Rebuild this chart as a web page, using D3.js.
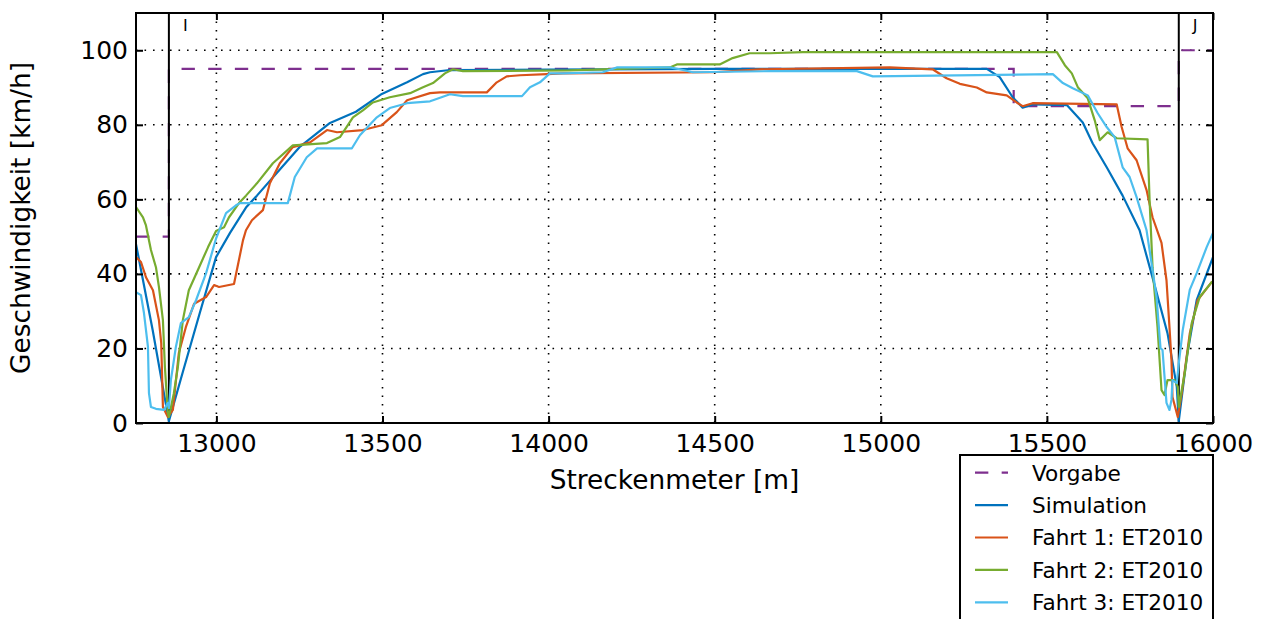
<!DOCTYPE html>
<html><head><meta charset="utf-8">
<script src="https://cdn.jsdelivr.net/npm/d3@7"></script>
<style>body{margin:0;background:#fff;} svg{display:block;font-family:"DejaVu Sans",sans-serif;}</style>
</head><body><svg id="c" width="1274" height="619"></svg>
<script>
const xTicks=[13000,13500,14000,14500,15000,15500,16000];
const yTicks=[0,20,40,60,80,100];
const seriesNames=["Vorgabe","Simulation","Fahrt 1: ET2010","Fahrt 2: ET2010","Fahrt 3: ET2010"];
const vorgabe=[[12758,50],[12857,50],[12857,95],[15400,95],[15400,85],[15897,85],[15897,100],[16000,100]];
const simulation=[[12758,48],[12808,25],[12857,0.5],[12900,14],[12950,29.5],[12999,44.5],[13041,51],[13089,57.8],[13122,61],[13191,68],[13250,74],[13342,80.5],[13420,83.5],[13498,88.3],[13574,91.4],[13622,93.6],[13643,94.1],[13703,94.7],[14000,94.8],[14500,95],[15319,95],[15358,92.8],[15397,87.4],[15427,84.6],[15460,85.5],[15560,85.3],[15608,80.6],[15638,75],[15680,68.6],[15728,61],[15779,51.7],[15815,40],[15863,24.1],[15891,9.7],[15897,0.5],[15921,17.7],[15951,33],[16000,44.5]];
const fahrt1=[[12758,44.5],[12773,43.2],[12788,39.1],[12809,35.6],[12827,27.6],[12834,21.4],[12839,4.3],[12854,1.6],[12869,3.5],[12887,18.8],[12908,25.7],[12933,32],[12969,33.8],[12993,37],[13008,36.5],[13053,37.3],[13080,49],[13089,51.7],[13107,54.4],[13140,57.1],[13161,64.3],[13191,69.7],[13230,74],[13282,75.3],[13333,78.6],[13363,78],[13441,78.6],[13498,79.9],[13543,83.4],[13574,86.6],[13643,88.5],[13673,88.7],[13814,88.7],[13844,91.4],[13874,93],[13914,93.3],[13995,93.6],[14043,93.8],[14494,94.1],[14636,94.9],[15027,95.4],[15156,94.9],[15198,92.5],[15238,91],[15289,90],[15319,88.7],[15379,87.9],[15409,86],[15427,85],[15457,85.8],[15710,85.5],[15725,79.4],[15743,73.7],[15770,70.5],[15800,62.5],[15818,55.2],[15845,48.3],[15860,38.3],[15869,25.7],[15875,16.9],[15878,7],[15894,1.6],[15906,8],[15930,24],[15954,33],[15996,37.8],[16000,38]];
const fahrt2=[[12758,57.9],[12779,55.2],[12788,53],[12803,46.4],[12818,41.8],[12827,36.5],[12839,27.6],[12845,15],[12854,2.7],[12857,1.6],[12872,8],[12884,15],[12899,27.6],[12917,35.6],[12948,41.8],[12975,47.2],[12999,51.5],[13023,52.5],[13038,55.2],[13068,59],[13089,61],[13122,64.3],[13170,69.7],[13230,74.5],[13333,75.1],[13372,76.7],[13411,82],[13441,83.9],[13471,86],[13522,87.4],[13583,88.5],[13622,90.1],[13652,91.2],[13688,93.8],[13712,94.9],[13742,94.4],[14064,94.6],[14365,95.4],[14386,96.2],[14515,96.2],[14554,97.9],[14605,99.2],[14666,99.2],[14765,99.5],[15530,99.5],[15554,96],[15575,93.8],[15593,90.1],[15623,87.1],[15644,81.2],[15659,75.9],[15683,78],[15710,76.4],[15803,76.1],[15809,60],[15818,41.8],[15833,25.7],[15845,8.8],[15854,7.5],[15863,11.5],[15884,11.5],[15894,9.7],[15897,4.3],[15915,13.4],[15936,26.8],[15960,33.8],[15996,37.8],[16000,38]];
const fahrt3=[[12758,35.1],[12773,34.3],[12782,29.5],[12794,20.4],[12797,8],[12803,4.3],[12818,3.8],[12842,3.5],[12854,5.4],[12857,4],[12863,11.5],[12878,20.4],[12893,26.8],[12917,28.4],[12939,33],[12969,40.2],[12999,49.5],[13029,56.3],[13059,58.4],[13071,59],[13215,59],[13236,66],[13272,71.3],[13303,73.7],[13408,73.7],[13432,77.2],[13483,82],[13522,84.5],[13574,85.8],[13643,86.3],[13652,86.6],[13703,88.2],[13742,87.7],[13920,87.7],[13944,90.1],[13974,91.4],[14004,93.8],[14043,93.8],[14163,94.1],[14205,95.4],[14365,95.4],[14395,94.9],[14434,94.1],[14666,94.4],[14928,94.4],[14976,93],[15518,93.6],[15548,91.2],[15578,89.8],[15623,87.9],[15653,83.1],[15680,79.4],[15704,76.7],[15728,68.6],[15749,66],[15770,60.6],[15800,51.7],[15815,42.9],[15830,33.8],[15842,20.1],[15848,19.6],[15860,5.4],[15869,3.5],[15875,6.2],[15878,11.5],[15891,10.7],[15897,16],[15909,25],[15930,35.7],[15951,40.2],[15981,47.2],[16000,51]];
const markers=[["I",12857],["J",15897]];

const colors=["#7E2F8E","#0072BD","#D95319","#77AC30","#4DBEEE"];
const allSeries=[vorgabe,simulation,fahrt1,fahrt2,fahrt3];

const L=136,R=1213,T=13,B=423;
const svg=d3.select("#c");
const x=d3.scaleLinear().domain([12758,16000]).range([L,R]);
const y=d3.scaleLinear().domain([0,110]).range([B,T]);

svg.append("defs").append("clipPath").attr("id","clip").append("rect")
  .attr("x",L).attr("y",T).attr("width",R-L).attr("height",B-T);

// grid
const grid=svg.append("g");
grid.selectAll(".gx").data(xTicks).join("line")
  .attr("x1",d=>x(d)).attr("x2",d=>x(d)).attr("y1",T).attr("y2",B)
  .attr("stroke","#000").attr("stroke-width",1.6).attr("stroke-dasharray","1.6,6.9");
grid.selectAll(".gy").data(yTicks).join("line")
  .attr("x1",L).attr("x2",R).attr("y1",d=>y(d)).attr("y2",d=>y(d))
  .attr("stroke","#000").attr("stroke-width",1.6).attr("stroke-dasharray","1.6,6.9");

const line=d3.line().x(d=>x(d[0])).y(d=>y(d[1]));
const plot=svg.append("g").attr("clip-path","url(#clip)");
plot.append("path").datum(vorgabe).attr("d",line).attr("fill","none")
  .attr("stroke",colors[0]).attr("stroke-width",2.2).attr("stroke-dasharray","13.33,13.33");
// vertical markers
plot.selectAll(".vm").data(markers).join("line")
  .attr("x1",d=>x(d[1])).attr("x2",d=>x(d[1])).attr("y1",T).attr("y2",B)
  .attr("stroke","#000").attr("stroke-width",2);
for(let i=1;i<allSeries.length;i++){
  plot.append("path").datum(allSeries[i]).attr("d",line).attr("fill","none")
    .attr("stroke",colors[i]).attr("stroke-width",2.2).attr("stroke-linejoin","round");
}
svg.selectAll(".ml").data(markers).join("text")
  .attr("x",d=>x(d[1])+14).attr("y",31).attr("font-size",16).attr("fill","#000").text(d=>d[0]);

// frame
svg.append("rect").attr("x",L).attr("y",T).attr("width",R-L).attr("height",B-T)
  .attr("fill","none").attr("stroke","#000").attr("stroke-width",2);

// axes with inward ticks
const tl=7;
const ax=svg.append("g").attr("transform",`translate(0,${B})`)
  .call(d3.axisBottom(x).tickValues(xTicks).tickSize(-tl).tickFormat(d3.format("d")));
const axT=svg.append("g").attr("transform",`translate(0,${T})`)
  .call(d3.axisTop(x).tickValues(xTicks).tickSize(-tl).tickFormat(""));
const ay=svg.append("g").attr("transform",`translate(${L},0)`)
  .call(d3.axisLeft(y).tickValues(yTicks).tickSize(-tl).tickPadding(8));
const ayR=svg.append("g").attr("transform",`translate(${R},0)`)
  .call(d3.axisRight(y).tickValues(yTicks).tickSize(-tl).tickFormat(""));
[ax,axT,ay,ayR].forEach(g=>{
  g.select(".domain").remove();
  g.selectAll(".tick line").attr("stroke","#000").attr("stroke-width",2);
  g.selectAll("text").attr("font-size",25).attr("fill","#000").attr("font-family","DejaVu Sans");
});
ax.selectAll("text").attr("dy",null).attr("y",29);

// axis labels
svg.append("text").attr("x",(L+R)/2).attr("y",489).attr("text-anchor","middle")
  .attr("font-size",26.4).text("Streckenmeter [m]");
svg.append("text").attr("transform",`translate(30,${(T+B)/2}) rotate(-90)`).attr("text-anchor","middle")
  .attr("font-size",26.4).text("Geschwindigkeit [km/h]");

// legend
const lg=svg.append("g");
lg.append("rect").attr("x",960).attr("y",455).attr("width",253).attr("height",200)
  .attr("fill","#fff").attr("stroke","#000").attr("stroke-width",2);
seriesNames.forEach((n,i)=>{
  const yy=472.7+i*32.4;
  lg.append("line").attr("x1",975).attr("x2",1008).attr("y1",yy).attr("y2",yy)
    .attr("stroke",colors[i]).attr("stroke-width",2.2)
    .attr("stroke-dasharray",i===0?"13.33,13.33":null);
  lg.append("text").attr("x",1032).attr("y",yy+7.8).attr("font-size",21.6).text(n);
});
</script></body></html>
